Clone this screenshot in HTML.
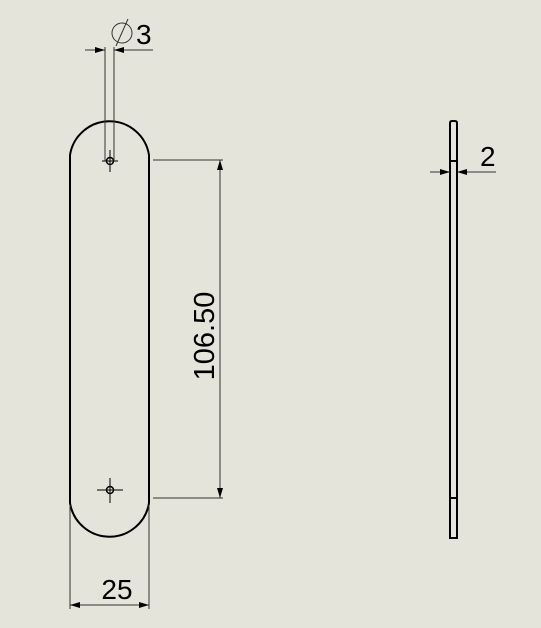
<!DOCTYPE html>
<html><head><meta charset="utf-8"><style>
html,body{margin:0;padding:0;background:#e5e4da;}
svg{display:block;}
text{font-family:"Liberation Sans",sans-serif;fill:#000;}
</style></head><body>
<svg width="541" height="628" viewBox="0 0 541 628">
<rect width="541" height="628" fill="#e5e4da"/>
<defs>
<marker id="ar" viewBox="0 0 10 6" refX="10" refY="3" markerWidth="10" markerHeight="6" orient="auto-start-reverse" markerUnits="userSpaceOnUse"><path d="M0,0 L10,3 L0,6 z" fill="#000"/></marker>
</defs>
<path d="M70,155 A40,40 0 0 1 149,155 L149,503 A40,40 0 0 1 70,503 Z" fill="none" stroke="#000" stroke-width="2"/>
<g stroke="#000" fill="none">
<circle cx="110" cy="161" r="3.5" stroke-width="1.5"/>
<line x1="102" y1="161" x2="118" y2="161" stroke-width="1"/>
<line x1="110" y1="150" x2="110" y2="172" stroke-width="1"/>
</g>
<g stroke="#000" fill="none">
<circle cx="110" cy="490" r="3.5" stroke-width="1.5"/>
<line x1="97" y1="490" x2="123" y2="490" stroke-width="1"/>
<line x1="110" y1="478" x2="110" y2="503" stroke-width="1"/>
</g>
<g stroke="#333" stroke-width="1">
<line x1="105" y1="47" x2="105" y2="161"/>
<line x1="114" y1="47" x2="114" y2="161"/>
<line x1="85" y1="50" x2="105" y2="50" marker-end="url(#ar)"/>
<line x1="153" y1="50" x2="114" y2="50" marker-end="url(#ar)"/>
<circle cx="122" cy="33" r="10" fill="none"/>
<line x1="128" y1="19" x2="116" y2="46"/>
</g>
<text x="136" y="44" font-size="28">3</text>
<g stroke="#333" stroke-width="1">
<line x1="153" y1="160" x2="223" y2="160"/>
<line x1="153" y1="498" x2="223" y2="498"/>
<line x1="220" y1="330" x2="220" y2="160" marker-end="url(#ar)"/>
<line x1="220" y1="330" x2="220" y2="498" marker-end="url(#ar)"/>
</g>
<text transform="translate(214,336) rotate(-90)" text-anchor="middle" font-size="29">106.50</text>
<g stroke="#333" stroke-width="1">
<line x1="70" y1="505" x2="70" y2="609"/>
<line x1="149" y1="505" x2="149" y2="609"/>
<line x1="110" y1="605" x2="70" y2="605" marker-end="url(#ar)"/>
<line x1="110" y1="605" x2="149" y2="605" marker-end="url(#ar)"/>
</g>
<text x="117" y="599" text-anchor="middle" font-size="28">25</text>
<g stroke="#000" stroke-width="2" fill="none">
<path d="M450,538 L450,123 Q450,121 452,121 L455,121 Q457,121 457,123 L457,538 Z"/>
<line x1="450" y1="161" x2="457" y2="161"/>
<line x1="450" y1="498" x2="457" y2="498"/>
</g>
<g stroke="#333" stroke-width="1">
<line x1="430" y1="172" x2="450" y2="172" marker-end="url(#ar)"/>
<line x1="496" y1="172" x2="457" y2="172" marker-end="url(#ar)"/>
</g>
<text x="480" y="166" font-size="28">2</text>
</svg>
</body></html>
